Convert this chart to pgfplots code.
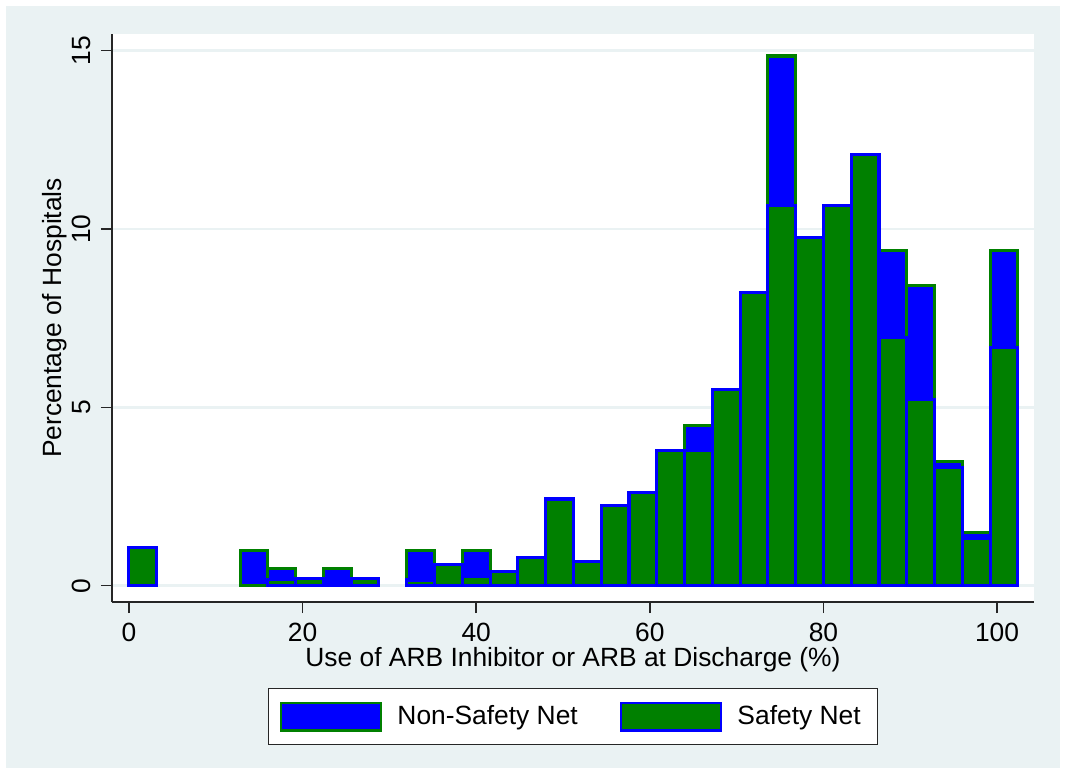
\documentclass[border=0pt]{standalone}
\usepackage{pgfplots}
\pgfplotsset{compat=1.18}
\usepackage{fontspec}
\setmainfont{Liberation Sans}
\definecolor{sgreen}{RGB}{0,128,0}
\definecolor{sblue}{RGB}{0,0,255}
\definecolor{bggray}{RGB}{234,242,243}
\pgfplotsset{histbox/.style={legend image code/.code={\draw[##1, line width=0.8pt] (0pt,-5pt) rectangle (36pt,5pt);}}}
\newcommand{\fs}{\fontsize{9.5}{11}\selectfont}
\begin{document}
\begin{tikzpicture}
% graph region
\fill[white] (-40.3pt,-62pt) rectangle (343.6pt,216.8pt);
\fill[bggray] (-38.1pt,-59.8pt) rectangle (341.4pt,214.6pt);
\fill[white] (0,0) rectangle (332.1pt,204.6pt);
\begin{axis}[
    at={(0,0)}, anchor=south west,
    scale only axis, width=332.1pt, height=204.6pt,
    xmin=-1.96, xmax=104.26, ymin=-0.457, ymax=15.47,
    axis x line*=bottom, axis y line*=left,
    axis line style={-, black!85, line width=0.5pt},
    xtick={0,20,40,60,80,100}, ytick={0,5,10,15},
    tick align=outside, major tick length=4pt,
    tick style={black!85, line width=0.5pt},
    ymajorgrids, grid style={bggray, line width=1pt},
    /pgf/number format/assume math mode=true,
    tick label style={font=\fs},
    yticklabel style={rotate=90, anchor=south},
    label style={font=\fs},
    xlabel={Use of ARB Inhibitor or ARB at Discharge (\%)},
    ylabel={Percentage of Hospitals},
    x label style={at={(axis description cs:0.5,-0.102)}, anchor=center},
    y label style={at={(axis description cs:-0.0618,0.5)}, anchor=center},
    legend style={at={(0.5,-0.1515)}, anchor=north, legend columns=2,
        draw=black!85, line width=0.4pt, fill=white, font=\fs,
        inner xsep=4.2pt, inner ysep=3.9pt,
        /tikz/every odd column/.append style={column sep=3.6pt},
        /tikz/every even column/.append style={column sep=13.1pt}},
    legend cell align=left,
]
% Non-Safety Net (bin centres, bin width 3.2)
\addplot[ybar, bar width=3.2, bar shift=0pt, fill=sblue, draw=sgreen, line width=1.1pt, histbox] coordinates {
    (1.6,0.5) (14.4,1.0) (17.6,0.49) (24.0,0.49) (33.6,1.0) (36.8,0.49)
    (40.0,1.0) (43.2,0.25) (46.4,0.49) (49.6,1.96) (52.8,0.49) (56.0,1.47)
    (59.2,1.96) (62.4,2.94) (65.6,4.48) (68.8,3.92) (72.0,5.88) (75.2,14.85)
    (78.4,7.35) (81.6,7.84) (84.8,8.82) (88.0,9.39) (91.2,8.42) (94.4,3.48)
    (97.6,1.48) (100.8,9.39)
};
% Safety Net
\addplot[ybar, bar width=3.2, bar shift=0pt, fill=sgreen, draw=sblue, line width=1.1pt, histbox] coordinates {
    (1.6,1.08) (17.6,0.18) (20.8,0.19) (24.0,0.05) (27.2,0.19) (33.6,0.16)
    (36.8,0.60) (40.0,0.27) (43.2,0.41) (46.4,0.79) (49.6,2.43) (52.8,0.68)
    (56.0,2.24) (59.2,2.62) (62.4,3.79) (65.6,3.79) (68.8,5.51) (72.0,8.22)
    (75.2,10.65) (78.4,9.77) (81.6,10.65) (84.8,12.10) (88.0,6.96) (91.2,5.23)
    (94.4,3.32) (97.6,1.33) (100.8,6.68)
};
\legend{Non-Safety Net, Safety Net}
\end{axis}
\end{tikzpicture}
\end{document}
